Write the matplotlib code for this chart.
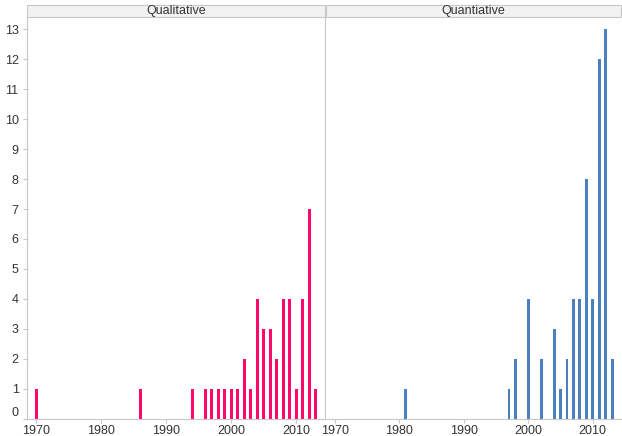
import matplotlib.pyplot as plt
from matplotlib.patches import Rectangle

plt.rcParams['font.family'] = ['Liberation Sans', 'DejaVu Sans']

# counts per year
qual_years = [1970, 1986, 1994, 1996, 1997, 1998, 1999, 2000, 2001, 2002,
              2003, 2004, 2005, 2006, 2007, 2008, 2009, 2010, 2011, 2012, 2013]
qual_counts = [1, 1, 1, 1, 1, 1, 1, 1, 1, 2,
               1, 4, 3, 3, 2, 4, 4, 1, 4, 7, 1]

quant_years = [1981, 1997, 1998, 2000, 2002, 2004, 2005, 2006, 2007, 2008,
               2009, 2010, 2011, 2012, 2013]
quant_counts = [1, 1, 2, 4, 2, 3, 1, 2, 4, 4,
                8, 4, 12, 13, 2]

panel_titles = ['Qualitative', 'Quantiative']
x_ticks = [1970, 1980, 1990, 2000, 2010]
y_ticks = list(range(0, 14))

fig = plt.figure(figsize=(6.22, 4.36), dpi=100)
grey = '#c8c8c8'
txt = '#333333'

ax1 = fig.add_axes([0.0434, 0.039, 0.479, 0.922])
ax2 = fig.add_axes([0.5241, 0.039, 0.4745, 0.922])

for ax, yrs, cnt, col, title in [(ax1, qual_years, qual_counts, '#ff0a6c', panel_titles[0]),
                                 (ax2, quant_years, quant_counts, '#4a80bc', panel_titles[1])]:
    ax.bar(yrs, cnt, width=0.45, color=col)
    ax.set_xlim(1968.6, 2014.4)
    ax.set_ylim(0, 13.4)
    ax.set_xticks(x_ticks)
    ax.tick_params(axis='x', length=3, color=grey, labelsize=9, labelcolor=txt, pad=1)
    for s in ['top', 'right']:
        ax.spines[s].set_visible(False)
    ax.spines['bottom'].set_color(grey)
    ax.spines['left'].set_color(grey)
    # header strip
    pos = ax.get_position()
    fig.patches.append(Rectangle((pos.x0, pos.y1), pos.width, 0.027,
                                 transform=fig.transFigure, facecolor='#f2f2f2',
                                 edgecolor=grey, linewidth=0.8))
    fig.text(pos.x0 + pos.width / 2, pos.y1 + 0.013, title, ha='center', va='center',
             fontsize=9, color=txt)

ax1.set_yticks(y_ticks)
ax1.tick_params(axis='y', length=3, color=grey, labelsize=9, labelcolor=txt, pad=3)
for lab in ax1.get_yticklabels():
    if lab.get_text() == '0':
        lab.set_va('bottom')
ax2.set_yticks([])
ax2.spines['left'].set_visible(False)
ax1.spines['right'].set_visible(True)
ax1.spines['right'].set_color(grey)

fig.savefig('out.png')
